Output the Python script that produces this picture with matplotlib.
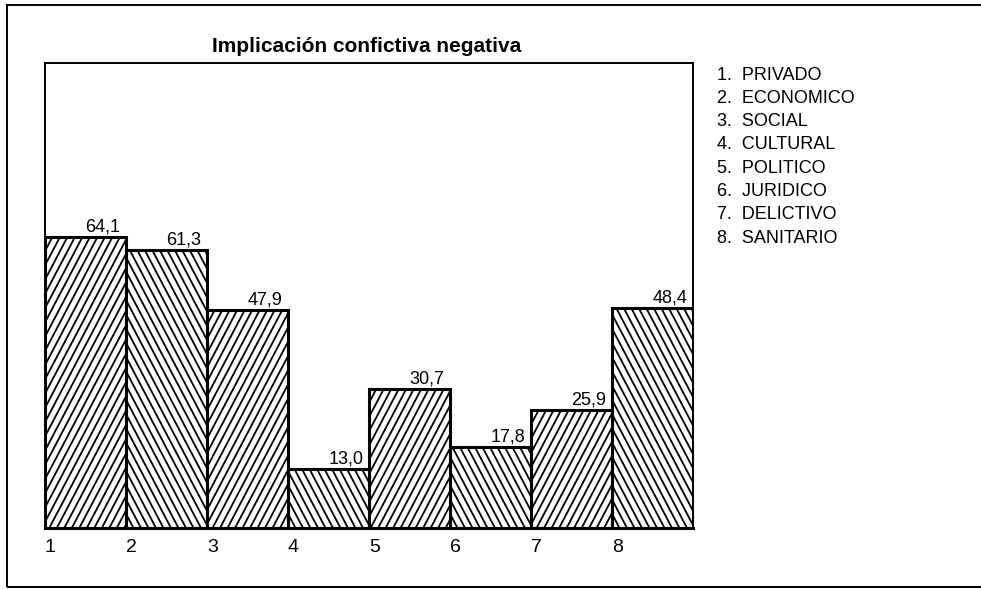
import matplotlib
matplotlib.use("Agg")
import matplotlib.pyplot as plt
import matplotlib.patches as patches
from matplotlib.collections import LineCollection
from matplotlib.transforms import IdentityTransform
import numpy as np

plt.rcParams['font.family'] = ['Liberation Sans', 'DejaVu Sans']

# --- datos ---
titulo = "Implicación confictiva negativa"
numeros = ["1", "2", "3", "4", "5", "6", "7", "8"]
ambitos = ["PRIVADO", "ECONOMICO", "SOCIAL", "CULTURAL",
           "POLITICO", "JURIDICO", "DELICTIVO", "SANITARIO"]
valores = [64.1, 61.3, 47.9, 13.0, 30.7, 17.8, 25.9, 48.4]

DPI = 100
fig = plt.figure(figsize=(9.81, 5.89), dpi=DPI)
ax = fig.add_axes([0.04587, 0.10357, 0.66055, 0.78947])

x = np.arange(len(valores))
barras = ax.bar(x, valores, width=1.0, align='edge', facecolor='none',
                edgecolor='black', linewidth=2.2, zorder=4)

ax.set_xlim(0, len(valores))
ax.set_ylim(0, 102.4)

# marco del grafico
for lado in ['left', 'top', 'right']:
    ax.spines[lado].set_linewidth(1.4)
ax.spines['bottom'].set_linewidth(2.2)
ax.set_yticks([])
ax.set_xticks(x)
ax.set_xticklabels(numeros, fontsize=14, ha='left')
ax.tick_params(axis='x', length=0, pad=8)

# --- rayado inclinado (lineas a unos 62 grados) ---
fig.canvas.draw()
paso = 7.5      # separacion horizontal en px
pend = 1.9      # pendiente de las lineas
for i, b in enumerate(barras):
    (xl, yb), (xr, yt) = ax.transData.transform(
        [(b.get_x(), 0), (b.get_x() + b.get_width(), b.get_height())])
    h = yt - yb
    dx = h / pend
    segs = []
    if i % 2 == 0:
        for x0 in np.arange(xl - dx, xr + paso, paso):
            segs.append([(x0, yb), (x0 + dx, yt)])
    else:
        for x0 in np.arange(xl, xr + dx + paso, paso):
            segs.append([(x0, yb), (x0 - dx, yt)])
    lc = LineCollection(segs, colors='black', linewidths=1.3,
                        transform=IdentityTransform(), zorder=3)
    ax.add_collection(lc)
    lc.set_clip_path(b)

# --- etiquetas de valor ---
for b, v in zip(barras, valores):
    ax.annotate(f"{v:.1f}".replace(".", ","),
                xy=(b.get_x() + b.get_width(), b.get_height()),
                xytext=(-4, 4), textcoords='offset points',
                ha='right', va='baseline', fontsize=13, zorder=5)

# --- titulo ---
fig.text(367 / 981, 1 - 46 / 589, titulo, fontsize=15, fontweight='bold',
         ha='center', va='center')

# --- leyenda ---
for i, (n, a) in enumerate(zip(numeros, ambitos)):
    fig.text(717 / 981, 1 - (75 + 23.3 * i) / 589, f"{n}.  {a}",
             fontsize=13, ha='left', va='center')

# marco exterior
fig.patches.append(patches.Rectangle((7 / 981, 2 / 589), 1.0, 582 / 589,
                                     transform=fig.transFigure, fill=False,
                                     edgecolor='black', linewidth=1.4))

fig.savefig("out.png", dpi=DPI)
